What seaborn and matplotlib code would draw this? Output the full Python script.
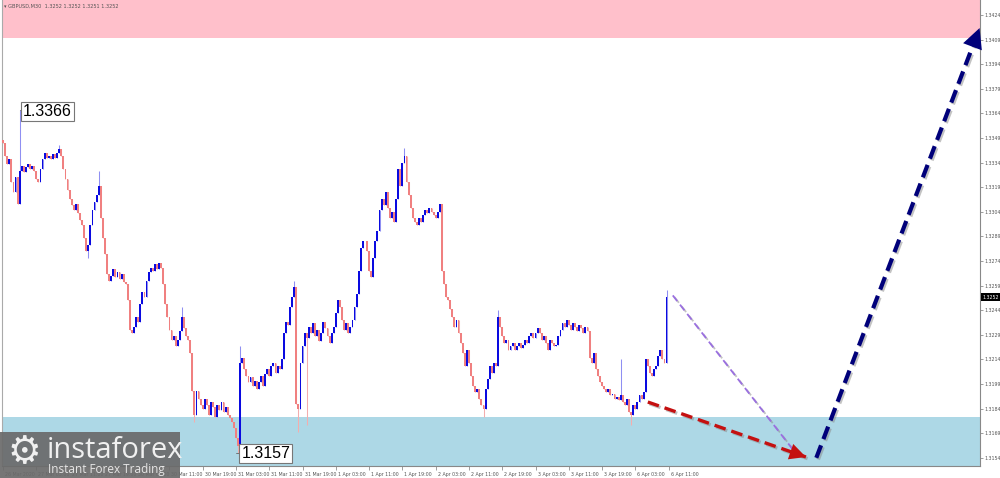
import matplotlib
matplotlib.use("Agg")
import numpy as np
import pandas as pd
import matplotlib.pyplot as plt
import matplotlib.patheffects as pe
from matplotlib.patches import Rectangle
from matplotlib.transforms import ScaledTranslation
import seaborn as sns

# GBPUSD M30 closes, pips above 1.3100, one row = 16 bars = 8 hours
closes_pips = [
    246, 238, 233, 236, 222, 216, 225, 209, 229, 232, 228, 231, 233, 230, 232, 229,
    224, 222, 230, 236, 240, 237, 238, 236, 239, 237, 240, 242, 238, 230, 224, 217,
    212, 208, 205, 209, 203, 199, 196, 188, 180, 184, 196, 205, 210, 214, 220, 200,
    188, 178, 166, 162, 165, 169, 164, 167, 163, 166, 161, 160, 150, 132, 130, 134,
    140, 137, 148, 155, 152, 162, 167, 170, 168, 172, 169, 173, 170, 160, 148, 140,
    132, 126, 128, 122, 126, 131, 140, 133, 128, 126, 118, 95, 80, 95, 90, 86,
    84, 90, 86, 80, 88, 85, 79, 86, 83, 88, 82, 85, 80, 78, 76, 72,
    66, 61, 112, 115, 108, 104, 100, 103, 98, 101, 96, 100, 104, 98, 105, 108,
    104, 110, 112, 106, 110, 108, 114, 130, 137, 135, 146, 152, 158, 87, 84, 112,
    122, 130, 127, 134, 130, 136, 128, 132, 125, 130, 137, 133, 128, 124, 130, 134,
    142, 150, 146, 138, 132, 136, 130, 134, 138, 146, 154, 168, 182, 186, 186, 180,
    168, 164, 176, 186, 192, 205, 212, 208, 216, 206, 200, 204, 198, 212, 230, 220,
    234, 238, 222, 214, 206, 200, 198, 196, 200, 198, 202, 205, 203, 206, 204, 202,
    200, 204, 209, 168, 160, 152, 150, 145, 140, 134, 138, 130, 124, 118, 110, 120,
    112, 104, 98, 94, 96, 90, 86, 84, 96, 102, 110, 106, 112, 110, 140, 134,
    128, 124, 126, 120, 122, 124, 120, 122, 124, 121, 123, 126, 124, 128, 130, 127,
    130, 133, 130, 126, 128, 124, 120, 126, 124, 122, 123, 128, 132, 136, 134, 138,
    135, 132, 136, 134, 131, 135, 133, 130, 134, 131, 115, 112, 118, 108, 104, 100,
    98, 96, 94, 96, 92, 93, 90, 91, 89, 92, 88, 86, 90, 82, 80, 86,
    84, 88, 92, 90, 94, 114, 110, 106, 104, 108, 110, 116, 120, 114, 112, 152,
    152,
]
first_open_pips = 248
# wicks that stick out of the bodies (bar index: pips)
spike_highs = {8: 266, 27: 245, 46: 229, 86: 146, 114: 122, 140: 162, 193: 243,
               238: 144, 297: 114, 319: 156}
spike_lows = {41: 176, 92: 76, 113: 57, 142: 70, 146: 74, 231: 79, 302: 74}

tick_bars = list(range(0, 321, 16))
tick_labels = ["26 Mar 2020", "27 Mar 03:00", "27 Mar 11:00", "27 Mar 19:00",
               "30 Mar 03:00", "30 Mar 11:00", "30 Mar 19:00", "31 Mar 03:00",
               "31 Mar 11:00", "31 Mar 19:00", "1 Apr 03:00", "1 Apr 11:00",
               "1 Apr 19:00", "2 Apr 03:00", "2 Apr 11:00", "2 Apr 19:00",
               "3 Apr 03:00", "3 Apr 11:00", "3 Apr 19:00", "6 Apr 03:00",
               "6 Apr 11:00"]
price_ticks = [1.3154, 1.3169, 1.3184, 1.3199, 1.3214, 1.3229, 1.3244, 1.3259,
               1.3274, 1.3289, 1.3304, 1.3319, 1.3334, 1.3349, 1.3364, 1.3379,
               1.3394, 1.3409, 1.3424]

resistance_zone = (1.3410, 1.3440)
support_zone = (1.3140, 1.3179)
marked_high = (8, 1.3366)
marked_low = (113, 1.3157)
last_price = 1.3252

# forecast legs (bar index, price)
leg_purple = [(322, 1.3253), (381, 1.3157)]
leg_red = [(310, 1.3188), (386, 1.31545)]
leg_navy = [(391, 1.3154), (469.5, 1.3416)]

# ---- build the bars
df = pd.DataFrame({"close": 1.31 + np.array(closes_pips) / 10000})
df["open"] = df["close"].shift(1).fillna(1.31 + first_open_pips / 10000)
df["high"] = df[["open", "close"]].max(axis=1)
df["low"] = df[["open", "close"]].min(axis=1)
for k, v in spike_highs.items():
    df.loc[k, "high"] = 1.31 + v / 10000
for k, v in spike_lows.items():
    df.loc[k, "low"] = 1.31 + v / 10000
df["up"] = df["close"] >= df["open"]

sns.set_theme(style="white")
plt.rcParams["font.family"] = ["DejaVu Sans"]

fig = plt.figure(figsize=(10, 4.78), dpi=100)
ax = fig.add_axes([0.002, 12 / 478, 0.978, 466 / 478])
ax.set_xlim(-0.5, 469.7)
ax.set_ylim(1.31490, 1.34331)

ax.axhspan(*resistance_zone, color="#ffc0cb", lw=0, zorder=0)
ax.axhspan(*support_zone, color="#add8e6", lw=0, zorder=0)

for up, body_c, wick_c in [(True, "#0a0ae0", "#8f8ff2"), (False, "#f08080", "#f4adad")]:
    d = df[df["up"] == up]
    ax.vlines(d.index, d["low"], d["high"], color=wick_c, lw=0.75, zorder=2)
    h = (d["close"] - d["open"]).abs().clip(lower=0.00003)
    ax.bar(d.index, h, bottom=d[["open", "close"]].min(axis=1), width=0.9,
           color=body_c, lw=0, zorder=3)

# high / low labels
ax.plot([marked_high[0], marked_high[0] + 1.5], [marked_high[1]] * 2, color="#666", lw=0.6)
ax.text(marked_high[0] + 1.6, marked_high[1] - 0.00007, "%.4f" % marked_high[1],
        family="Liberation Sans", fontsize=11.5, va="center", ha="left", color="black",
        bbox=dict(boxstyle="square,pad=0.12", fc="white", ec="#777", lw=0.8), zorder=6)
ax.plot([marked_low[0] - 1, marked_low[0] + 1.2], [marked_low[1]] * 2, color="#666", lw=0.6)
ax.text(marked_low[0] + 1.6, marked_low[1] - 0.00002, "%.4f" % marked_low[1],
        family="Liberation Sans", fontsize=11.5, va="center", ha="left", color="black",
        bbox=dict(boxstyle="square,pad=0.12", fc="white", ec="#777", lw=0.8), zorder=6)

# forecast arrows
shadow = [pe.SimpleLineShadow(offset=(1.2, -1.2), shadow_color="#888", alpha=0.5), pe.Normal()]
for leg, col, lw, dash, head in [(leg_purple, "#9a6fe0", 1.3, (4, 2.5), None),
                                 (leg_red, "#c41010", 2.4, (3.5, 1.8), 13),
                                 (leg_navy, "#00007a", 3.0, (3.2, 1.6), 16)]:
    xs = [p[0] for p in leg]
    ys = [p[1] for p in leg]
    sns.lineplot(x=xs, y=ys, ax=ax, sort=False, color=col, lw=lw,
                 linestyle=(0, dash), path_effects=shadow, zorder=7)
    if head:
        back = (xs[1] - 0.06 * (xs[1] - xs[0]), ys[1] - 0.06 * (ys[1] - ys[0]))
        ax.annotate("", xy=(xs[1], ys[1]), xytext=back, zorder=8, annotation_clip=False,
                    arrowprops=dict(arrowstyle="-|>,head_length=0.9,head_width=0.45",
                                    mutation_scale=head, color=col, lw=0,
                                    shrinkA=0, shrinkB=0))

# axes styling
ax.yaxis.tick_right()
ax.set_yticks(price_ticks)
ax.set_yticklabels(["%.4f" % v for v in price_ticks])
ax.set_xticks(tick_bars)
ax.set_xticklabels(tick_labels)
ax.tick_params(axis="y", length=2, width=0.5, color="#777", pad=1.5, labelsize=3.4,
               labelcolor="#555", right=True, left=False)
ax.tick_params(axis="x", length=3, width=0.5, color="#777", pad=1.0, labelsize=3.4,
               labelcolor="#555", bottom=True)
off = ScaledTranslation(2 / 100, 0, fig.dpi_scale_trans)
for lbl in ax.get_xticklabels():
    lbl.set_horizontalalignment("left")
    lbl.set_transform(lbl.get_transform() + off)
for side, c in [("right", "#888"), ("bottom", "#888"), ("left", "#aaa")]:
    ax.spines[side].set_color(c)
    ax.spines[side].set_linewidth(0.8)
ax.spines["top"].set_visible(False)
ax.set_xlabel("")
ax.set_ylabel("")

# current price marker
ax.text(1.002, last_price, "%.4f" % last_price, transform=ax.get_yaxis_transform(),
        fontsize=3.4, color="white", va="center", ha="left",
        bbox=dict(boxstyle="square,pad=0.25", fc="black", ec="black", lw=0), clip_on=False)

fig.text(0.004, 0.992, "\u25be GBPUSD,M30  1.3252 1.3252 1.3251 1.3252", fontsize=3.6,
         color="#555", va="top", ha="left")

# watermark
fig.patches.append(Rectangle((0, 0), 0.18, 46 / 478, transform=fig.transFigure,
                             fc="#6a6a6a", alpha=0.92, lw=0, zorder=20))
fig.text(0.007, 25 / 478, "\u2699", fontsize=27, color="#f0f0f0", va="center",
         ha="left", zorder=21)
fig.text(0.047, 27 / 478, "instaforex", family="Open Sans", fontsize=21,
         color="#f0f0f0", va="center", ha="left", zorder=21)
fig.text(0.048, 9 / 478, "Instant Forex Trading", family="Open Sans", fontsize=8.5,
         color="#e6e6e6", va="center", ha="left", zorder=21)

fig.savefig("out.png", dpi=100)
